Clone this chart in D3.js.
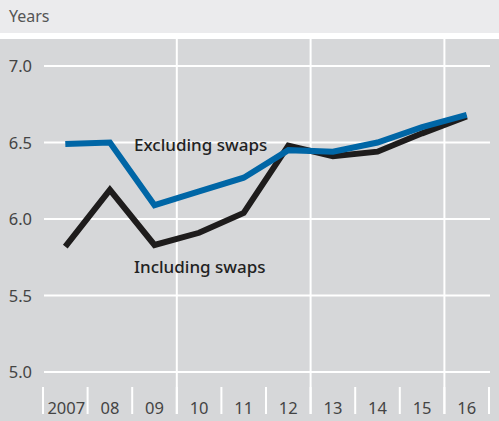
<!DOCTYPE html>
<html><head><meta charset="utf-8">
<script src="https://cdn.jsdelivr.net/npm/d3@7"></script>
<style>body{margin:0;background:#fff}svg{display:block}text{font-family:"Noto Sans","Open Sans",sans-serif}</style>
</head><body>
<script>
const years = ["2007","08","09","10","11","12","13","14","15","16"];
const excluding = [6.49,6.50,6.09,6.18,6.27,6.45,6.44,6.50,6.60,6.68];
const including = [5.82,6.19,5.83,5.91,6.04,6.48,6.41,6.44,6.56,6.67];
const yTicks = [5.0,5.5,6.0,6.5,7.0];
const dividers = ["10","13","16"];

const W=499,H=421;
const svg=d3.select("body").append("svg").attr("width",W).attr("height",H);
svg.append("rect").attr("x",0).attr("y",0).attr("width",W).attr("height",33).attr("fill","#ebebed");
svg.append("rect").attr("x",0).attr("y",39).attr("width",W).attr("height",H-39).attr("fill","#d6d7d9");
svg.append("text").attr("x",9).attr("y",22).attr("font-size",16).attr("fill","#555").text("Years");

const x=d3.scaleBand().domain(years).range([43,489]);
const y=d3.scaleLinear().domain([5.0,7.0]).range([372,66]);

svg.append("g").selectAll("line").data(yTicks).join("line")
  .attr("x1",44).attr("x2",490).attr("y1",d=>y(d)).attr("y2",d=>y(d))
  .attr("stroke","#fff").attr("stroke-width",2);
svg.append("g").selectAll("line").data(dividers).join("line")
  .attr("x1",d=>x(d)).attr("x2",d=>x(d)).attr("y1",39).attr("y2",414)
  .attr("stroke","#fff").attr("stroke-width",2);
const tickPos=years.map(d=>x(d)).concat([x.range()[1]]);
svg.append("g").selectAll("line").data(tickPos).join("line")
  .attr("x1",d=>d).attr("x2",d=>d).attr("y1",387).attr("y2",414)
  .attr("stroke","#fff").attr("stroke-width",2);
svg.append("g").selectAll("text").data(yTicks).join("text")
  .attr("x",32).attr("y",d=>y(d)+6).attr("text-anchor","end")
  .attr("font-size",16.5).attr("fill","#444").text(d=>d.toFixed(1));
svg.append("g").selectAll("text").data(years).join("text")
  .attr("x",d=>x(d)+x.bandwidth()/2+(d==="2007"?1:0)).attr("y",414).attr("text-anchor","middle")
  .attr("font-size",16.5).attr("fill","#444").text(d=>d);

const line=d3.line().x((d,i)=>x(years[i])+x.bandwidth()/2).y(d=>y(d));
svg.append("path").datum(including).attr("d",line).attr("fill","none")
  .attr("stroke","#1e1c1c").attr("stroke-width",6).attr("stroke-linejoin","miter");
svg.append("path").datum(excluding).attr("d",line).attr("fill","none")
  .attr("stroke","#0066a6").attr("stroke-width",6).attr("stroke-linejoin","miter");

svg.append("text").attr("x",134).attr("y",151).attr("font-size",17).attr("font-weight",500).attr("fill","#222").text("Excluding swaps");
svg.append("text").attr("x",134).attr("y",273).attr("font-size",17).attr("font-weight",500).attr("fill","#222").text("Including swaps");
</script>
</body></html>
